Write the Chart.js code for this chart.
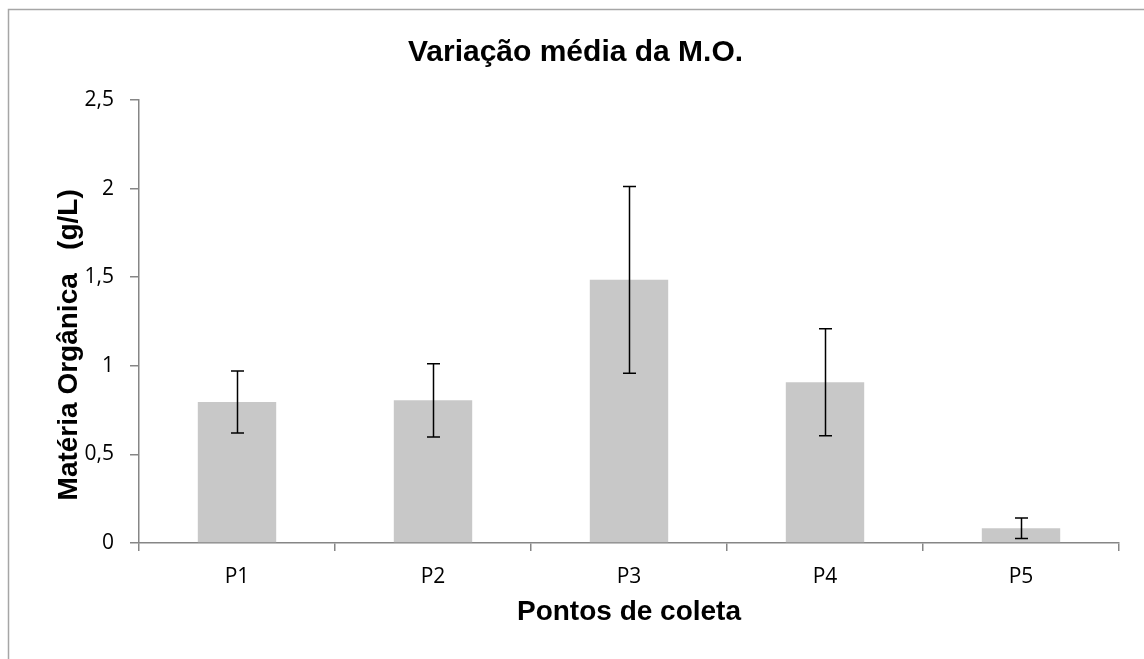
<!DOCTYPE html>
<html>
<head>
<meta charset="utf-8">
<script src="https://cdn.jsdelivr.net/npm/chart.js@4.4.0/dist/chart.umd.min.js"></script>
<style>
  html, body { margin: 0; padding: 0; background: #ffffff; }
  #wrap { width: 1144px; height: 659px; position: relative; }
</style>
</head>
<body>
<div id="wrap"><canvas id="c" width="1144" height="659"></canvas></div>
<script>
// ---- data ----
const categories = ['P1', 'P2', 'P3', 'P4', 'P5'];
const meanValues = [0.796, 0.805, 1.485, 0.907, 0.083];
const errorValues = [0.175, 0.207, 0.527, 0.302, 0.058];
const yTickValues = [0, 0.5, 1, 1.5, 2, 2.5];
const yTickLabels = ['0', '0,5', '1', '1,5', '2', '2,5'];
const chartTitle = 'Variação média da M.O.';
const xTitle = 'Pontos de coleta';
const yTitle = 'Matéria Orgânica   (g/L)      ';

const axisGray = '#868686';

const errorBarPlugin = {
  id: 'errorBars',
  afterDatasetsDraw(chart) {
    const ctx = chart.ctx;
    const meta = chart.getDatasetMeta(0);
    const yScale = chart.scales.y;
    ctx.save();
    ctx.strokeStyle = '#000000';
    ctx.lineWidth = 1.5;
    meta.data.forEach((bar, i) => {
      const x = Math.round(bar.x) + 0.5;
      const yTop = yScale.getPixelForValue(meanValues[i] + errorValues[i]);
      const yBot = yScale.getPixelForValue(meanValues[i] - errorValues[i]);
      const cap = 6.5;
      ctx.beginPath();
      ctx.moveTo(x, yTop); ctx.lineTo(x, yBot);
      ctx.moveTo(x - cap, yTop); ctx.lineTo(x + cap, yTop);
      ctx.moveTo(x - cap, yBot); ctx.lineTo(x + cap, yBot);
      ctx.stroke();
    });
    ctx.restore();
  }
};

const frameBorderPlugin = {
  id: 'frameBorder',
  beforeDraw(chart) {
    const ctx = chart.ctx;
    ctx.save();
    ctx.fillStyle = '#ffffff';
    ctx.fillRect(0, 0, chart.width, chart.height);
    ctx.strokeStyle = '#a6a6a6';
    ctx.lineWidth = 1.5;
    ctx.beginPath();
    ctx.moveTo(8.5, chart.height);
    ctx.lineTo(8.5, 9.5);
    ctx.lineTo(chart.width, 9.5);
    ctx.stroke();
    ctx.restore();
  }
};

new Chart(document.getElementById('c'), {
  type: 'bar',
  data: {
    labels: categories,
    datasets: [{
      data: meanValues,
      backgroundColor: '#c8c8c8',
      borderWidth: 0,
      categoryPercentage: 0.8,
      barPercentage: 0.5
    }]
  },
  options: {
    responsive: false,
    animation: false,
    devicePixelRatio: 1,
    layout: { padding: { left: 32, right: 25, top: 0, bottom: 0 } },
    plugins: {
      legend: { display: false },
      tooltip: { enabled: false },
      title: {
        display: true,
        text: chartTitle,
        color: '#000000',
        font: { family: 'Liberation Sans, Arial, sans-serif', size: 30, weight: 'bold', lineHeight: 1.2 },
        padding: { top: 35, bottom: 29 }
      }
    },
    scales: {
      x: {
        grid: { display: true, drawOnChartArea: false, drawTicks: true, tickLength: 8, color: axisGray, lineWidth: 1.5, offset: true },
        border: { display: true, color: axisGray, width: 1.5 },
        ticks: {
          color: '#000000',
          font: { family: 'Open Sans, sans-serif', size: 21 },
          padding: 13
        },
        title: {
          display: true,
          text: xTitle,
          color: '#000000',
          font: { family: 'Liberation Sans, Arial, sans-serif', size: 28, weight: 'bold', lineHeight: 1.2 },
          padding: { top: 0, bottom: 30 }
        },
        afterFit(scale) { scale.height = 116; }
      },
      y: {
        min: 0,
        max: 2.5,
        afterBuildTicks(scale) { scale.ticks = yTickValues.map(v => ({ value: v })); },
        grid: { display: true, drawOnChartArea: false, drawTicks: true, tickLength: 9, color: axisGray, lineWidth: 1.5 },
        border: { display: true, color: axisGray, width: 1.5 },
        ticks: {
          color: '#000000',
          font: { family: 'Open Sans, sans-serif', size: 21 },
          padding: 16,
          callback: (value) => {
            const idx = yTickValues.indexOf(value);
            return idx >= 0 ? yTickLabels[idx] : '';
          }
        },
        title: {
          display: true,
          text: yTitle,
          color: '#000000',
          font: { family: 'Liberation Sans, Arial, sans-serif', size: 28, weight: 'bold', lineHeight: 1.2 },
          padding: { top: 20, bottom: 0 }
        },
        afterFit(scale) { scale.width = 107; }
      }
    }
  },
  plugins: [errorBarPlugin, frameBorderPlugin]
});
</script>
</body>
</html>
